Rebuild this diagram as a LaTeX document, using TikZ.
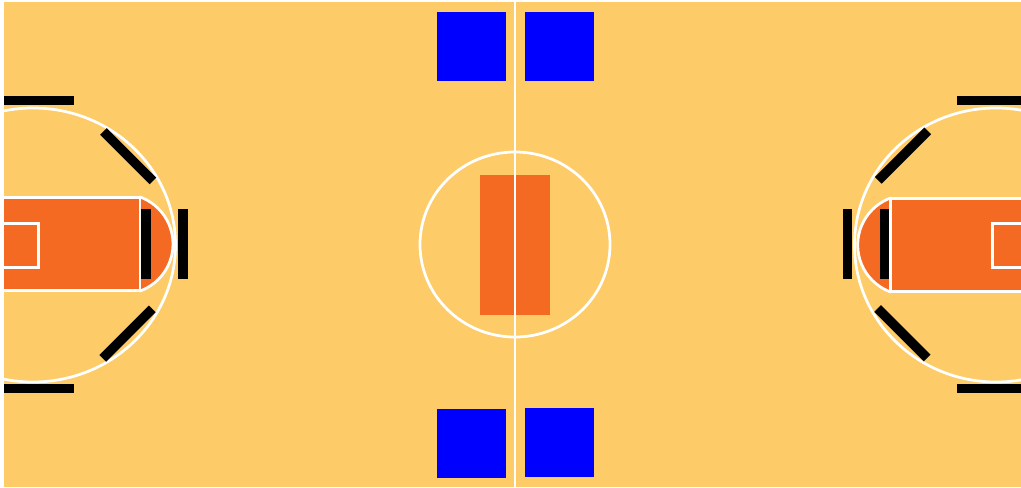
\documentclass[tikz,border=0pt]{standalone}
\usepackage{xcolor}
\usetikzlibrary{positioning}
\definecolor{floorc}{HTML}{FDCB67}
\definecolor{keyc}{HTML}{F46A23}

\begin{document}
\begin{tikzpicture}[x=0.02cm,y=-0.02cm,
  ln/.style={draw=white,line width=0.055cm},
  bar/.style={fill=black,inner sep=0pt,minimum width=1.4cm,minimum height=0.19cm},
  spot/.style={fill=blue,inner sep=0pt,minimum width=1.39cm,minimum height=1.38cm}]
  \useasboundingbox (0,0) rectangle (1021,487);
  \clip (4,2) rectangle (1021,487);
  \fill[floorc] (4,2) rectangle (1021,487);
  % left end
  \begin{scope}
   \begin{scope}
    \clip (140,150) rectangle (200,340);
    \filldraw[ln,fill=keyc] (123,244) circle[radius=50];
   \end{scope}
   \filldraw[ln,fill=keyc] (0,197.7) rectangle (140,290.7);
   \draw[ln] (0,223.3) rectangle (38.3,267.7);
   \draw[ln] (33,245) ellipse[x radius=142.5,y radius=137];
   \node[bar](lt) at (39,100.5){};\node[bar](lb) at (39,388.5){};
   \node[bar,rotate=90](lo) at (183,244){};\node[bar,rotate=90](li) at (146,244){};
   \node[bar,rotate=-45](ldt) at (128.2,156.2){};\node[bar,rotate=45](ldb) at (127.5,333.7){};
  \end{scope}
  % right end
  \begin{scope}
   \begin{scope}
    \clip (890.7,150) rectangle (840,340);
    \filldraw[ln,fill=keyc] (907.7,245) circle[radius=50];
   \end{scope}
   \filldraw[ln,fill=keyc] (890.7,198.7) rectangle (1030,291.3);
   \draw[ln] (992.3,223.3) rectangle (1030,267.7);
   \draw[ln] (996,245) ellipse[x radius=141.5,y radius=137];
   \node[bar](rt) at (991.7,100.5){};\node[bar](rb) at (991.7,388.5){};
   \node[bar,rotate=90](ro) at (847.5,244){};\node[bar,rotate=90](ri) at (884.5,244){};
   \node[bar,rotate=45](rdt) at (903,155.6){};\node[bar,rotate=-45](rdb) at (902.4,333.2){};
  \end{scope}
  % centre
  \fill[keyc] (480,174.5) rectangle (550,314.5);
  \draw[ln] (515,244.5) ellipse[x radius=95,y radius=92.5];
  \draw[ln] (515,2) -- (515,487);
  \node[spot](stl) at (471.4,46.5){};\node[spot](str) at (559.5,46.3){};
  \node[spot](sbl) at (471.4,443){};\node[spot](sbr) at (559.5,442.8){};
\end{tikzpicture}
\end{document}
